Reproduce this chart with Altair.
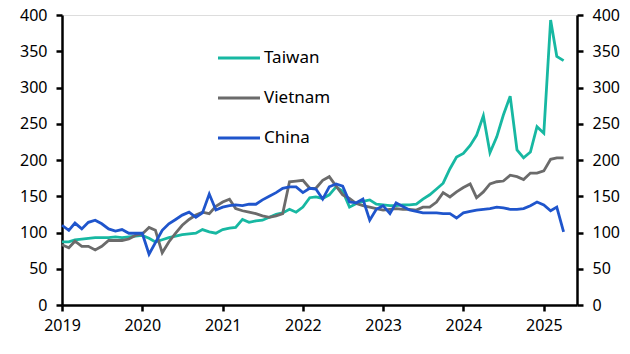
import altair as alt
import pandas as pd

start_month = "2019-01-01"
n_months = 76

taiwan = [87, 87, 90, 91, 92, 93, 93, 93, 94, 93, 94, 95,
          96, 92, 87, 90, 93, 95, 97, 98, 99, 104, 101, 99,
          104, 106, 107, 118, 114, 116, 117, 121, 125, 127, 132, 128,
          135, 148, 149, 147, 152, 163, 157, 135, 140, 143, 145, 139,
          138, 137, 137, 138, 138, 139, 146, 152, 160, 168, 188, 204,
          209, 220, 234, 261, 210, 232, 262, 288, 214, 203, 211, 246,
          237, 393, 343, 337]
vietnam = [83, 79, 88, 81, 81, 76, 81, 89, 89, 89, 91, 96,
           98, 107, 103, 72, 87, 99, 110, 118, 124, 128, 126, 136,
           142, 146, 133, 130, 128, 126, 123, 121, 123, 126, 170, 171,
           172, 161, 161, 172, 177, 164, 152, 147, 140, 137, 135, 133,
           131, 132, 133, 132, 132, 131, 135, 135, 142, 155, 149, 156,
           162, 167, 148, 156, 167, 170, 171, 179, 177, 173, 182, 182,
           185, 201, 203, 203]
china = [110, 103, 113, 105, 114, 117, 112, 105, 102, 104, 99, 99,
         99, 70, 86, 103, 112, 118, 124, 128, 121, 127, 153, 131,
         135, 137, 138, 137, 139, 139, 145, 150, 155, 161, 163, 163,
         155, 161, 160, 146, 163, 167, 164, 142, 141, 146, 117, 132,
         137, 126, 141, 136, 131, 129, 127, 127, 127, 126, 126, 120,
         127, 129, 131, 132, 133, 135, 134, 132, 132, 133, 137, 142,
         138, 130, 135, 101]

series_names = ["Taiwan", "Vietnam", "China"]
series_colors = ["#17B8A2", "#6B6B6B", "#1F55CC"]
y_ticks = [0, 50, 100, 150, 200, 250, 300, 350, 400]

dates = pd.date_range(start_month, periods=n_months, freq="MS")
rows = []
for name, vals in zip(series_names, [taiwan, vietnam, china]):
    for d, v in zip(dates, vals):
        rows.append({"date": d.strftime("%Y-%m-%d"), "country": name, "value": v})
df = pd.DataFrame(rows)

FONT = "Noto Sans"
FS = 16

x_enc = alt.X(
    "date:T",
    scale=alt.Scale(type="utc",
                    domain=[alt.DateTime(year=2019, month=1, date=1, utc=True),
                            alt.DateTime(year=2025, month=6, date=1, utc=True)]),
    axis=alt.Axis(title=None, format="%Y", tickCount={"interval": "year", "step": 1},
                  labelFont=FONT, labelFontSize=FS, labelColor="black",
                  domainColor="black", domainWidth=2.5, tickColor="black",
                  tickWidth=2.5, tickSize=6, labelPadding=6, grid=False,
                  labelFlush=False),
)

y_scale = alt.Scale(domain=[0, 400], nice=False)
color_enc = alt.Color("country:N", scale=alt.Scale(domain=series_names, range=series_colors),
                      legend=None)

lines = alt.Chart(df).mark_line(strokeWidth=2.8).encode(
    x=x_enc,
    y=alt.Y("value:Q", scale=y_scale,
            axis=alt.Axis(title=None, values=y_ticks, labelFont=FONT, labelFontSize=FS,
                          labelColor="black", domainColor="black", domainWidth=2.5,
                          tickColor="black", tickWidth=2.5, tickSize=6, labelPadding=9,
                          grid=False)),
    color=color_enc,
)

right = alt.Chart(df).mark_line(opacity=0).encode(
    x=x_enc,
    y=alt.Y("value:Q", scale=y_scale,
            axis=alt.Axis(title=None, orient="right", values=y_ticks, labelFont=FONT,
                          labelFontSize=FS, labelColor="black", domainColor="black",
                          domainWidth=2.5, tickColor="black", tickWidth=2.5, tickSize=6,
                          labelPadding=9, grid=False)),
    detail="country:N",
)

legend_layers = []
for i, (name, col) in enumerate(zip(series_names, series_colors)):
    ypos = 43 + 40 * i
    one = pd.DataFrame({"country": [name]})
    legend_layers.append(
        alt.Chart(one).mark_rule(strokeWidth=2.8, color=col).encode(
            x=alt.value(156), x2=alt.value(198), y=alt.value(ypos))
    )
    legend_layers.append(
        alt.Chart(one).mark_text(align="left", baseline="middle", font=FONT,
                                 fontSize=17, color="black").encode(
            x=alt.value(202), y=alt.value(ypos), text="country:N")
    )

chart = alt.layer(lines, right, *legend_layers).resolve_scale(y="independent").properties(
    width=515, height=290,
    padding={"left": 62, "top": 15, "right": 53, "bottom": 49},
    autosize=alt.AutoSizeParams(type="none"),
).configure_view(stroke=None).configure(background="white")

chart.save("out.html", embed_options={"renderer": "svg", "actions": False})
